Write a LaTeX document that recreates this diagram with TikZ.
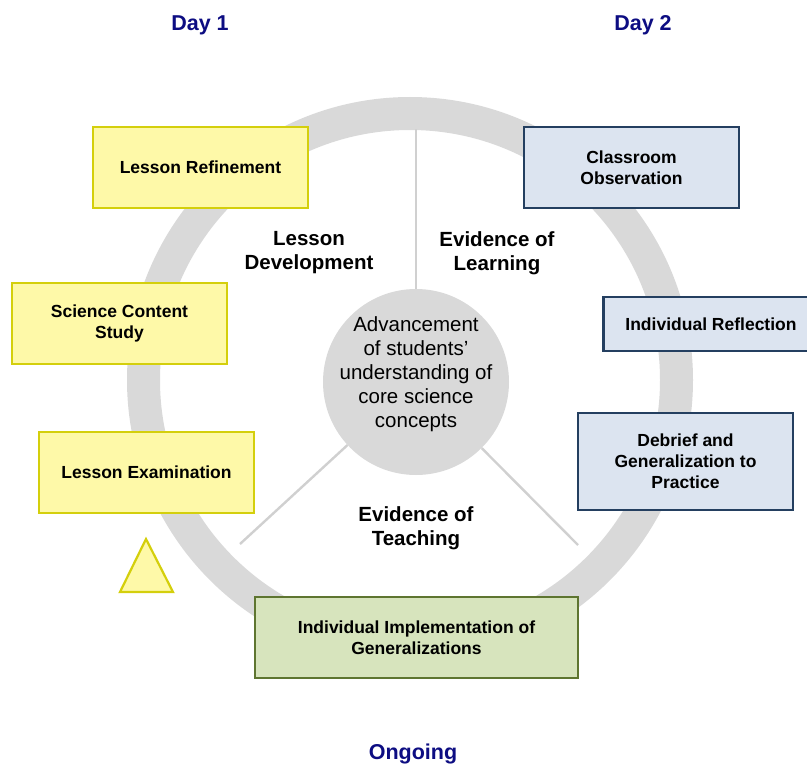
\documentclass[tikz,border=0pt]{standalone}
\usepackage{fontspec}
\setmainfont{Liberation Sans}
\definecolor{ylfill}{HTML}{FEF9A8}
\definecolor{yldraw}{HTML}{D4CF0C}
\definecolor{blfill}{HTML}{DCE4F0}
\definecolor{bldraw}{HTML}{243F60}
\definecolor{grfill}{HTML}{D7E4BD}
\definecolor{grdraw}{HTML}{5E7530}
\definecolor{ringgray}{HTML}{D9D9D9}
\definecolor{divgray}{HTML}{D0D0D0}
\definecolor{navy}{HTML}{0D0D82}
\begin{document}
\begin{tikzpicture}[x=1pt,y=-1pt,
  box/.style={rectangle, line width=2.4pt, minimum width=215pt, minimum height=81pt,
    align=center, font=\fontsize{17.5}{21}\selectfont\bfseries, inner sep=0pt},
  ybox/.style={box, fill=ylfill, draw=yldraw},
  bbox/.style={box, fill=blfill, draw=bldraw},
  gbox/.style={box, fill=grfill, draw=grdraw},
  sect/.style={align=center, font=\fontsize{20.5}{24}\selectfont\bfseries},
  daylbl/.style={anchor=base, font=\fontsize{21.5}{26}\selectfont\bfseries, text=navy},
  divider/.style={draw=divgray, line width=2.4pt},
]
\useasboundingbox (0,0) rectangle (807,768);
% ring
\draw[ringgray, line width=33pt] (410,380) circle[radius=266.5];
% core circle
\node[circle, fill=ringgray, minimum size=186pt, inner sep=0pt] (core) at (416,382) {};
\node[align=center, font=\fontsize{20.5}{24}\selectfont] (coretext) at (416,374)
  {Advancement\\of students’\\understanding of\\core science\\concepts};
% dividers
\coordinate (topend) at (416,129);
\coordinate (llend) at (240,544);
\coordinate (lrend) at (578,545);
\draw[divider] (core) -- (topend);
\draw[divider] (core) -- (llend);
\draw[divider] (core) -- (lrend);
% section labels
\node[sect] (dev) at (309,253) {Lesson\\Development};
\node[sect] (learn) at (497,253) {Evidence of\\Learning};
\node[sect] (teach) at (416,528) {Evidence of\\Teaching};
% boxes
\node[ybox] (refine) at (200.5,167.5) {Lesson Refinement};
\node[ybox] (study) at (119.5,323.5) {Science Content\\Study};
\node[ybox] (exam) at (146.5,472.5) {Lesson Examination};
\node[bbox] (observe) at (631.5,167.5) {Classroom\\Observation};
\node[bbox, minimum height=54pt] (reflect) at (711,324) {Individual Reflection};
\node[bbox, minimum height=97pt] (debrief) at (685.5,461.5) {Debrief and\\Generalization to\\Practice};
\node[gbox, minimum width=323pt] (implement) at (416.5,637.5) {Individual Implementation of\\Generalizations};
% triangle
\draw[fill=ylfill, draw=yldraw, line width=2.2pt] (146,539) -- (173,592) -- (120,592) -- cycle;
% headings
\node[daylbl] (day1) at (200,31) {Day 1};
\node[daylbl] (day2) at (643,31) {Day 2};
\node[daylbl] (ongoing) at (413,759) {Ongoing};
\end{tikzpicture}
\end{document}
